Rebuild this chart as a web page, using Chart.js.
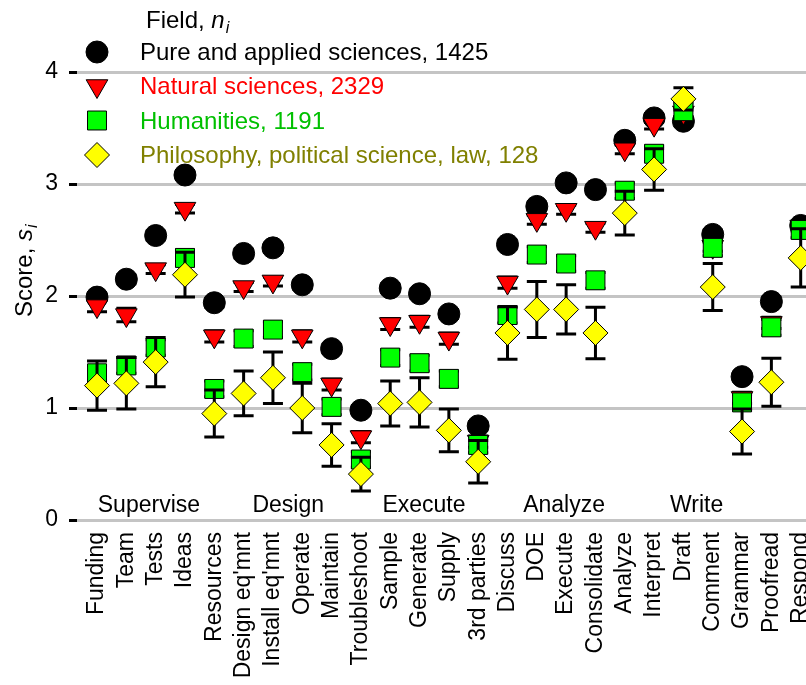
<!DOCTYPE html>
<html>
<head>
<meta charset="utf-8">
<script src="https://cdn.jsdelivr.net/npm/chart.js@4/dist/chart.umd.min.js"></script>
<style>
  html, body { margin: 0; padding: 0; background: #fff; overflow: hidden; }
  #wrap { width: 806px; height: 685px; overflow: hidden; }
</style>
</head>
<body>
<div id="wrap"><canvas id="myChart" width="845" height="685"></canvas></div>
<script>
// categories (tasks) along the x axis
const categories = ["Funding", "Team", "Tests", "Ideas", "Resources", "Design eq'mnt", "Install eq'mnt",
  "Operate", "Maintain", "Troubleshoot", "Sample", "Generate", "Supply", "3rd parties", "Discuss", "DOE",
  "Execute", "Consolidate", "Analyze", "Interpret", "Draft", "Comment", "Grammar", "Proofread", "Respond"];

// task groups, placed at a (fractional) category index
const groups = ["Supervise", "Design", "Execute", "Analyze", "Write"];
const groupAt = [1.77, 6.52, 11.15, 15.93, 20.45];

const fieldNames = ["Pure and applied sciences, 1425", "Natural sciences, 2329", "Humanities, 1191",
  "Philosophy, political science, law, 128"];

// scores s_i
const pure = [1.99, 2.15, 2.54, 3.08, 1.94, 2.38, 2.43, 2.10, 1.53, 0.98, 2.07, 2.02, 1.84, 0.84,
  2.46, 2.80, 3.01, 2.95, 3.39, 3.59, 3.56, 2.55, 1.28, 1.95, 2.63];
const natural = [1.91, 1.83, 2.24, 2.78, 1.64, 2.08, 2.13, 1.64, 1.21, 0.74, 1.75, 1.77, 1.62, 0.70,
  2.12, 2.68, 2.77, 2.61, 3.31, 3.53, 3.64, 2.44, 1.09, 1.76, 2.62];
const humanities = [1.31, 1.38, 1.54, 2.34, 1.17, 1.62, 1.70, 1.32, 1.01, 0.54, 1.45, 1.40, 1.26, 0.67,
  1.83, 2.37, 2.29, 2.14, 2.94, 3.27, 3.65, 2.43, 1.05, 1.72, 2.59];
const philosophy = [1.20, 1.22, 1.41, 2.19, 0.95, 1.13, 1.27, 1.00, 0.67, 0.41, 1.04, 1.05, 0.80, 0.52,
  1.67, 1.88, 1.88, 1.67, 2.74, 3.13, 3.76, 2.08, 0.79, 1.23, 2.34];

// half widths of the error bars
const pureErr = [0.04, 0.04, 0.04, 0.04, 0.04, 0.04, 0.04, 0.04, 0.04, 0.04, 0.04, 0.04, 0.04, 0.04,
  0.04, 0.04, 0.04, 0.04, 0.04, 0.04, 0.04, 0.04, 0.04, 0.04, 0.04];
const naturalErr = [0.05, 0.06, 0.04, 0.04, 0.05, 0.04, 0.04, 0.05, 0.05, 0.05, 0.05, 0.05, 0.05, 0.05,
  0.05, 0.04, 0.04, 0.04, 0.04, 0.04, 0.04, 0.04, 0.05, 0.05, 0.04];
const humanitiesErr = [0.07, 0.07, 0.07, 0.07, 0.07, 0.07, 0.07, 0.07, 0.07, 0.07, 0.07, 0.07, 0.07, 0.07,
  0.07, 0.07, 0.07, 0.07, 0.07, 0.07, 0.07, 0.07, 0.07, 0.07, 0.07];
const philosophyErr = [0.22, 0.23, 0.22, 0.20, 0.21, 0.20, 0.23, 0.22, 0.19, 0.15, 0.20, 0.22, 0.19, 0.19,
  0.235, 0.25, 0.22, 0.23, 0.195, 0.185, 0.10, 0.21, 0.20, 0.215, 0.26];

const yTicks = [0, 1, 2, 3, 4];

const FONT = '"Liberation Sans", Arial, Helvetica, sans-serif';
const legendColors = ["#000000", "#ff0000", "#00c000", "#808000"];

function pts(values) {
  return values.map((v, i) => ({ x: i, y: v }));
}

// error bars, drawn just before the markers of their own dataset
const errorBars = {
  id: "errorBars",
  beforeDatasetDraw(chart, args) {
    const ds = chart.data.datasets[args.index];
    if (!ds.err) return;
    const ctx = chart.ctx;
    const xs = chart.scales.x;
    const ys = chart.scales.y;
    ctx.save();
    ctx.strokeStyle = "#000";
    ctx.lineWidth = 3;
    ds.data.forEach((p, i) => {
      const px = xs.getPixelForValue(p.x);
      const top = ys.getPixelForValue(p.y + ds.err[i]);
      const bot = ys.getPixelForValue(p.y - ds.err[i]);
      ctx.beginPath();
      ctx.moveTo(px, top);
      ctx.lineTo(px, bot);
      ctx.moveTo(px - 10, top);
      ctx.lineTo(px + 10, top);
      ctx.moveTo(px - 10, bot);
      ctx.lineTo(px + 10, bot);
      ctx.stroke();
    });
    ctx.restore();
  }
};

// group names, axis title and the legend
const decor = {
  id: "decor",
  beforeDatasetsDraw(chart) {
    const ctx = chart.ctx;
    const xs = chart.scales.x;
    const ys = chart.scales.y;
    ctx.save();
    ctx.fillStyle = "#000";
    ctx.font = "23px " + FONT;
    ctx.textAlign = "center";
    ctx.textBaseline = "alphabetic";
    groups.forEach((g, i) => {
      ctx.fillText(g, xs.getPixelForValue(groupAt[i]), ys.getPixelForValue(0) - 8.5);
    });
    ctx.restore();
  },
  afterDraw(chart) {
    const ctx = chart.ctx;
    ctx.save();
    ctx.fillStyle = "#000";
    ctx.textAlign = "left";
    ctx.textBaseline = "alphabetic";

    // y axis title: Score, s_i
    ctx.save();
    ctx.translate(32, 317);
    ctx.rotate(-Math.PI / 2);
    ctx.font = "24px " + FONT;
    ctx.fillText("Score, ", 0, 0);
    let w = ctx.measureText("Score, ").width;
    ctx.font = "italic 24px " + FONT;
    ctx.fillText("s", w, 0);
    w += ctx.measureText("s").width;
    ctx.font = "italic 16px " + FONT;
    ctx.fillText("i", w + 1, 5);
    ctx.restore();

    // legend title: Field, n_i
    ctx.font = "24px " + FONT;
    ctx.fillText("Field, ", 146, 28);
    let tw = ctx.measureText("Field, ").width;
    ctx.font = "italic 24px " + FONT;
    ctx.fillText("n", 146 + tw, 28);
    tw += ctx.measureText("n").width;
    ctx.font = "italic 16px " + FONT;
    ctx.fillText("i", 146 + tw + 1, 33);

    // legend rows
    const rowY = [52, 86, 120.5, 155];
    chart.data.datasets.forEach((ds, i) => {
      ctx.save();
      ctx.fillStyle = ds.pointBackgroundColor;
      ctx.strokeStyle = ds.pointBorderColor;
      ctx.lineWidth = ds.pointBorderWidth;
      Chart.helpers.drawPoint(ctx, {
        pointStyle: ds.pointStyle,
        rotation: ds.pointRotation || 0,
        radius: ds.pointRadius,
        borderWidth: ds.pointBorderWidth
      }, 97, rowY[i]);
      ctx.restore();
      ctx.fillStyle = legendColors[i];
      ctx.font = "24px " + FONT;
      ctx.fillText(fieldNames[i], 140, rowY[i] + 8);
    });
    ctx.restore();
  }
};

Chart.defaults.font.family = FONT;
Chart.defaults.color = "#000";

const ctx = document.getElementById("myChart");
const myChart = new Chart(ctx, {
  type: "scatter",
  data: {
    datasets: [
      {
        label: fieldNames[0], data: pts(pure), err: pureErr, order: 4,
        pointStyle: "circle", pointRadius: 11, pointBackgroundColor: "#000000",
        pointBorderColor: "#000000", pointBorderWidth: 1, clip: false
      },
      {
        label: fieldNames[1], data: pts(natural), err: naturalErr, order: 3,
        pointStyle: "triangle", pointRotation: 180, pointRadius: 12.5, pointBackgroundColor: "#ff0000",
        pointBorderColor: "#000000", pointBorderWidth: 1, clip: false
      },
      {
        label: fieldNames[2], data: pts(humanities), err: humanitiesErr, order: 2,
        pointStyle: "rect", pointRadius: 13.4, pointBackgroundColor: "#00ff00",
        pointBorderColor: "#000000", pointBorderWidth: 1, clip: false
      },
      {
        label: fieldNames[3], data: pts(philosophy), err: philosophyErr, order: 1,
        pointStyle: "rectRot", pointRadius: 12.5, pointBackgroundColor: "#ffff00",
        pointBorderColor: "#000000", pointBorderWidth: 1, clip: false
      }
    ]
  },
  options: {
    responsive: false,
    animation: false,
    events: [],
    layout: { padding: { top: 72, left: 0, right: 0, bottom: 0 } },
    plugins: { legend: { display: false }, tooltip: { enabled: false } },
    scales: {
      x: {
        type: "linear",
        min: -0.683,
        max: 25.02,
        afterBuildTicks(s) { s.ticks = categories.map((c, i) => ({ value: i })); },
        afterFit(s) { s.height = 165; },
        ticks: {
          autoSkip: false, minRotation: 90, maxRotation: 90, padding: 12,
          font: { size: 23 }, color: "#000",
          callback: (v) => categories[v]
        },
        grid: { display: false, drawTicks: false },
        border: { display: false }
      },
      y: {
        min: 0,
        max: 4,
        afterBuildTicks(s) { s.ticks = yTicks.map((v) => ({ value: v })); },
        afterFit(s) { s.width = 77; },
        ticks: { padding: 11, font: { size: 23 }, color: "#000" },
        grid: { color: "#c4c4c4", lineWidth: 3, tickColor: "#000", tickWidth: 3, tickLength: 8 },
        border: { display: false }
      }
    }
  },
  plugins: [errorBars, decor]
});
</script>
</body>
</html>
